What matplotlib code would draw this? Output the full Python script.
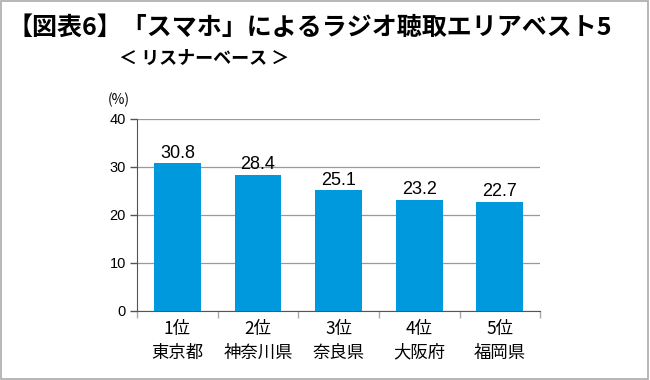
import matplotlib
matplotlib.use("Agg")
import matplotlib.pyplot as plt
from matplotlib.patches import Rectangle

plt.rcParams['font.family'] = ['Noto Sans CJK JP', 'DejaVu Sans']

ranks = ["1位", "2位", "3位", "4位", "5位"]
prefectures = ["東京都", "神奈川県", "奈良県", "大阪府", "福岡県"]
values = [30.8, 28.4, 25.1, 23.2, 22.7]
yticks = [0, 10, 20, 30, 40]

fig = plt.figure(figsize=(6.5, 3.8), dpi=100)
fig.patches.append(Rectangle((0.002, 0.003), 0.995, 0.994, transform=fig.transFigure,
                             fill=False, edgecolor="#aaaaaa", linewidth=1.2))

ax = fig.add_axes([0.211, 0.182, 0.62, 0.505])
x = range(len(values))
ax.bar(x, values, width=0.58, color="#0099dd", zorder=3)
for xi, v in zip(x, values):
    ax.text(xi, v + 0.3, f"{v}", ha="center", va="bottom", fontsize=13, family="Liberation Sans")

ax.set_xlim(-0.5, len(values) - 0.5)
ax.set_ylim(0, 40)
ax.set_yticks(yticks)
ax.set_yticklabels([str(t) for t in yticks], fontsize=10.5, family="Liberation Sans")
ax.yaxis.grid(True, color="#999999", linewidth=0.9, zorder=0)
ax.set_xticks([i - 0.5 for i in range(len(values) + 1)], minor=False)
ax.set_xticklabels([])
ax.tick_params(axis="x", length=5, color="#aaaaaa", direction="out", width=1)
ax.tick_params(axis="y", length=5, color="#555555", width=1, direction="out", pad=3)
for s in ["top", "right"]:
    ax.spines[s].set_visible(False)
ax.spines["left"].set_color("#555555")
ax.spines["bottom"].set_color("#555555")

for xi, r, p in zip(x, ranks, prefectures):
    ax.annotate(r, xy=(xi, 0), xycoords="data", xytext=(0, -13), textcoords="offset points",
                ha="center", va="center", fontsize=12.5)
    ax.annotate(p, xy=(xi, 0), xycoords="data", xytext=(0, -30), textcoords="offset points",
                ha="center", va="center", fontsize=12.5)

fig.text(0.182, 1 - 100 / 380, "(%)", ha="center", va="center", fontsize=10)

fig.text(0.012, 1 - 28 / 380, "【図表6】「スマホ」によるラジオ聴取エリアベスト5",
         ha="left", va="center", fontsize=18, fontweight="bold")
fig.text(0.183, 1 - 58 / 380, "＜ リスナーベース ＞", ha="left", va="center",
         fontsize=13, fontweight="bold")

fig.savefig("out.png", dpi=100)
